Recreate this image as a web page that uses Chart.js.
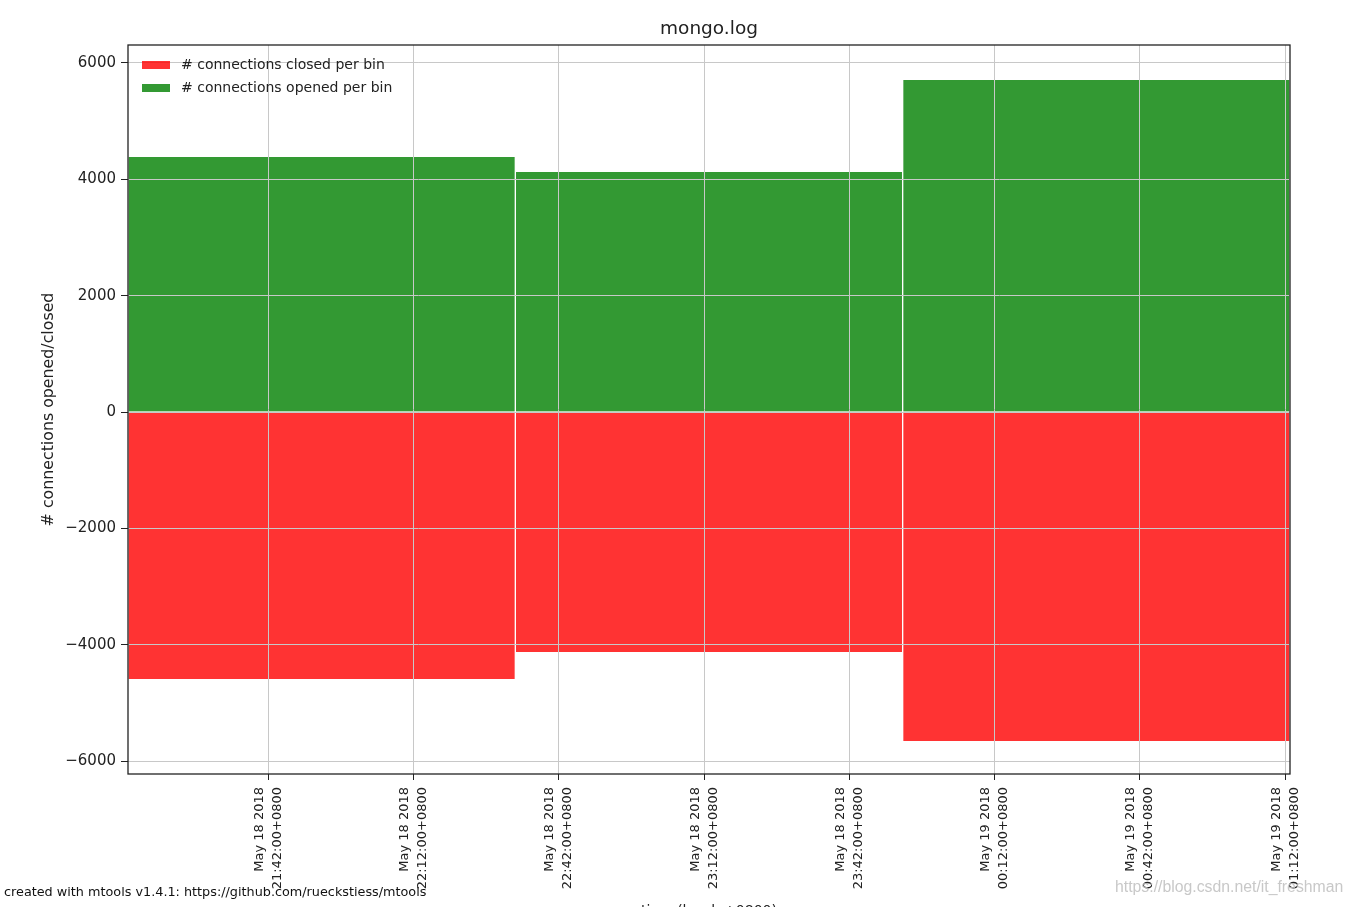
<!DOCTYPE html>
<html>
<head>
<meta charset="utf-8">
<title>mongo.log</title>
<script src="https://cdn.jsdelivr.net/npm/chart.js@4.4.0/dist/chart.umd.min.js"></script>
<style>
  html, body { margin: 0; padding: 0; background: #fff; }
  #wrap { width: 1351px; height: 907px; position: relative; }
</style>
</head>
<body>
<div id="wrap"><canvas id="connChart"></canvas></div>
<script>
// Data (minutes since May 18 2018 00:00 +0800)
const binLabels = ['21:13', '22:33', '23:53'];
const opened = [4384, 4126, 5707];
const closed = [-4590, -4126, -5656];
const xMin = 1273;
const xMax = 1513;
const xTickValues = [1302, 1332, 1362, 1392, 1422, 1452, 1482, 1512];
const xTickLabels = [
  ['May 18 2018', '21:42:00+0800'],
  ['May 18 2018', '22:12:00+0800'],
  ['May 18 2018', '22:42:00+0800'],
  ['May 18 2018', '23:12:00+0800'],
  ['May 18 2018', '23:42:00+0800'],
  ['May 19 2018', '00:12:00+0800'],
  ['May 19 2018', '00:42:00+0800'],
  ['May 19 2018', '01:12:00+0800']
];
const yTickValues = [-6000, -4000, -2000, 0, 2000, 4000, 6000];
const yMin = -6223;
const yMax = 6309;

const FONT = 'DejaVu Sans';
const TEXT = '#222';
const GRID = '#c8c8c8';

// Grid over the bars (like matplotlib), plus legend, frame and loose texts
const overlay = {
  id: 'overlay',
  afterDatasetsDraw(chart) {
    const a = chart.chartArea;
    chart.scales.x.drawGrid(a);
    chart.scales.y.drawGrid(a);
  },
  afterDraw(chart) {
    const { ctx, chartArea: a } = chart;
    const cx = (a.left + a.right) / 2;
    ctx.save();

    // axes frame
    ctx.strokeStyle = '#222';
    ctx.lineWidth = 1.3;
    ctx.strokeRect(a.left, a.top, a.right - a.left, a.bottom - a.top);

    // title
    ctx.fillStyle = TEXT;
    ctx.textAlign = 'center';
    ctx.textBaseline = 'middle';
    ctx.font = '18.5px "' + FONT + '"';
    ctx.fillText('mongo.log', cx, 29);

    // legend inside the plot, top-left
    ctx.font = '14px "' + FONT + '"';
    ctx.textAlign = 'left';
    chart.data.datasets.forEach((ds, i) => {
      const y = a.top + 20 + i * 23;
      ctx.fillStyle = ds.backgroundColor;
      ctx.fillRect(a.left + 14, y - 4, 28, 8);
      ctx.fillStyle = TEXT;
      ctx.fillText(ds.label, a.left + 53, y);
    });

    // x axis title (cut by the bottom edge)
    ctx.textAlign = 'center';
    ctx.fillStyle = TEXT;
    ctx.fillText('time (local, +0800)', cx, 911);

    // footer
    ctx.textAlign = 'left';
    ctx.font = '12.8px "' + FONT + '"';
    ctx.fillStyle = '#111';
    ctx.fillText('created with mtools v1.4.1: https://github.com/rueckstiess/mtools', 4, 893);

    // watermark
    ctx.font = '15.8px "Liberation Sans"';
    ctx.fillStyle = 'rgba(190,190,190,0.85)';
    ctx.fillText('https://blog.csdn.net/it_freshman', 1115, 888);

    ctx.restore();
  }
};

const barStyle = {
  xAxisID: 'xb',
  borderColor: 'rgba(255,255,255,0.55)',
  borderWidth: { left: 1, right: 1, top: 0, bottom: 0 },
  borderSkipped: false,
  grouped: false,
  barPercentage: 1,
  categoryPercentage: 1
};

const ctx = document.getElementById('connChart').getContext('2d');
const chart = new Chart(ctx, {
  type: 'bar',
  data: {
    labels: binLabels,
    datasets: [
      Object.assign({
        label: '# connections closed per bin',
        data: closed,
        backgroundColor: 'rgba(255,0,0,0.8)'
      }, barStyle),
      Object.assign({
        label: '# connections opened per bin',
        data: opened,
        backgroundColor: 'rgba(0,128,0,0.8)'
      }, barStyle)
    ]
  },
  options: {
    responsive: true,
    maintainAspectRatio: false,
    animation: false,
    layout: { padding: { left: 0, right: 61, top: 45, bottom: 0 } },
    plugins: {
      legend: { display: false },
      tooltip: { enabled: false },
      title: { display: false }
    },
    scales: {
      xb: {
        type: 'category',
        axis: 'x',
        position: 'bottom',
        offset: true,
        display: false
      },
      x: {
        type: 'linear',
        position: 'bottom',
        min: xMin,
        max: xMax,
        offset: false,
        afterBuildTicks(scale) {
          scale.ticks = xTickValues.map(v => ({ value: v }));
        },
        afterFit(scale) {
          scale.height = 133;
        },
        border: { display: false },
        grid: { offset: false, color: GRID, lineWidth: 1, tickLength: 6, tickColor: '#222' },
        ticks: {
          autoSkip: false,
          maxRotation: 90,
          minRotation: 90,
          padding: 7,
          labelOffset: -9,
          color: TEXT,
          font: { family: FONT, size: 13, lineHeight: 1.4 },
          callback(value) {
            const i = xTickValues.indexOf(value);
            return i >= 0 ? xTickLabels[i] : '';
          }
        }
      },
      y: {
        type: 'linear',
        min: yMin,
        max: yMax,
        afterBuildTicks(scale) {
          scale.ticks = yTickValues.map(v => ({ value: v }));
        },
        afterFit(scale) {
          scale.width = 128;
        },
        border: { display: false },
        grid: { color: GRID, lineWidth: 1, tickLength: 7, tickColor: '#222' },
        ticks: {
          padding: 5,
          color: TEXT,
          font: { family: FONT, size: 15 },
          callback(value) {
            return value < 0 ? '\u2212' + Math.abs(value) : String(value);
          }
        },
        title: {
          display: true,
          text: '# connections opened/closed',
          color: TEXT,
          font: { family: FONT, size: 15.8 },
          padding: { top: 39.5, bottom: 0 }
        }
      }
    }
  },
  plugins: [overlay]
});
</script>
</body>
</html>
